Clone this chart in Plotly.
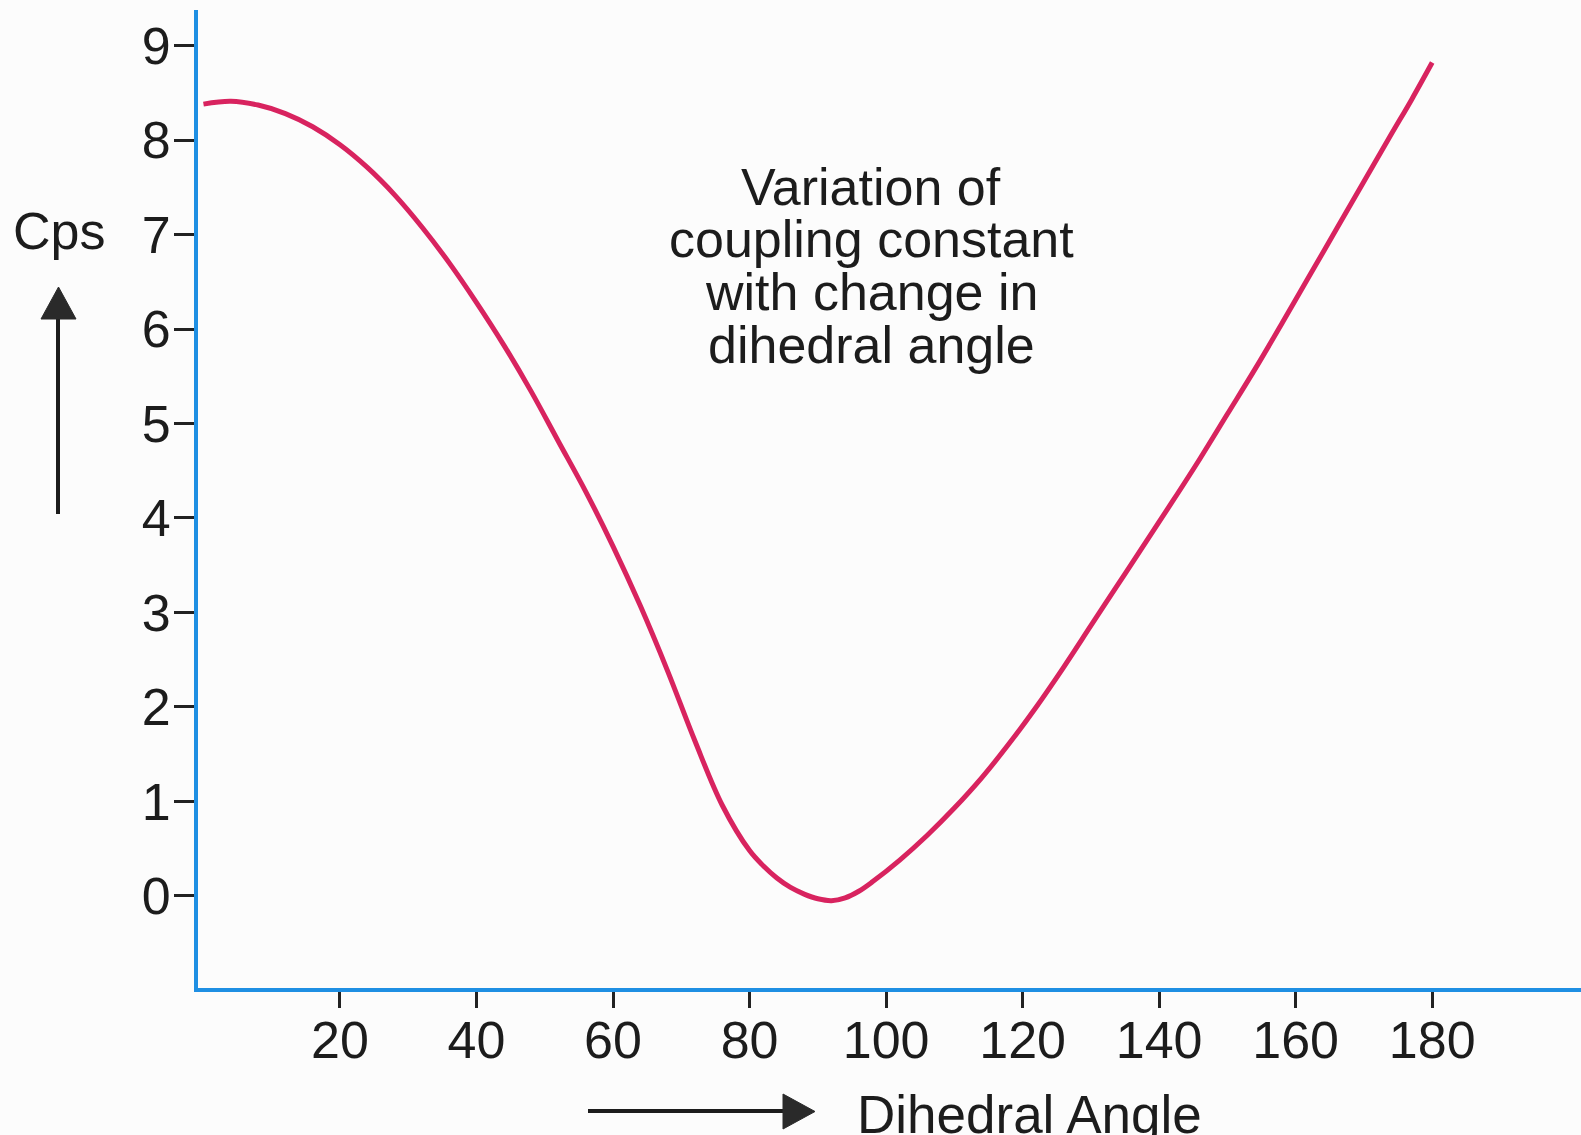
import plotly.graph_objects as go

# Vicinal coupling constant vs. dihedral angle (Karplus-type curve)
angle_deg = [0, 4, 8, 12, 16, 20, 24, 28, 32, 36, 40, 44, 48, 52, 56, 60, 64,
             68, 72, 76, 80, 82, 84, 86, 88, 90, 92, 94, 96, 98, 102, 106,
             110, 114, 118, 122, 126, 130, 134, 138, 142, 146, 150, 154, 158,
             162, 166, 170, 174, 177, 180]
coupling_cps = [8.38, 8.41, 8.37, 8.28, 8.14, 7.95, 7.71, 7.42, 7.08, 6.70,
                6.28, 5.83, 5.34, 4.81, 4.28, 3.70, 3.07, 2.38, 1.64, 0.96,
                0.48, 0.32, 0.19, 0.09, 0.02, -0.03, -0.05, -0.02, 0.05, 0.15,
                0.38, 0.64, 0.93, 1.25, 1.61, 2.00, 2.42, 2.86, 3.30, 3.74,
                4.18, 4.63, 5.10, 5.57, 6.06, 6.56, 7.06, 7.56, 8.06, 8.43,
                8.82]

x_ticks = [20, 40, 60, 80, 100, 120, 140, 160, 180]
y_ticks = [0, 1, 2, 3, 4, 5, 6, 7, 8, 9]

title_lines = ["Variation of", "coupling constant", "with change in", "dihedral angle"]
y_label = "Cps"
x_label = "Dihedral Angle"

# page geometry (pixels)
W, H = 1581, 1135
M_L, M_R, M_T, M_B = 198, 0, 10, 147
PW, PH = W - M_L - M_R, H - M_T - M_B

FONT = "Liberation Sans, Arial, Helvetica, sans-serif"
INK = "#1c1c1c"
AXIS_BLUE = "#1f8fe3"
CURVE = "#d8235f"
FS = 52


def px(x):
    return (x - M_L) / PW


def py(y):
    return (H - M_B - y) / PH


fig = go.Figure()
fig.add_trace(go.Scatter(
    x=angle_deg, y=coupling_cps, mode="lines",
    line=dict(color=CURVE, width=5, shape="spline", smoothing=1.0),
    hoverinfo="skip", showlegend=False,
))

annotations = []
# multi-line caption, one annotation per line for tight leading
for i, line in enumerate(title_lines):
    annotations.append(dict(
        x=px(871), y=py(187 + i * 52.5), xref="paper", yref="paper",
        text=line, showarrow=False, xanchor="center", yanchor="middle",
        font=dict(family=FONT, size=FS, color=INK),
    ))
annotations.append(dict(
    x=px(59), y=py(231), xref="paper", yref="paper", text=y_label,
    showarrow=False, xanchor="center", yanchor="middle",
    font=dict(family=FONT, size=FS, color=INK),
))
annotations.append(dict(
    x=px(855), y=py(1114), xref="paper", yref="paper", text=x_label,
    showarrow=False, xanchor="left", yanchor="middle",
    font=dict(family=FONT, size=53, color=INK),
))

shapes = [
    # upward arrow beside the y label
    dict(type="line", xref="paper", yref="paper",
         x0=px(58), x1=px(58), y0=py(514), y1=py(316),
         line=dict(color=INK, width=4)),
    dict(type="path", xref="paper", yref="paper",
         path=f"M {px(41)} {py(319)} L {px(76)} {py(319)} L {px(58.5)} {py(287)} Z",
         fillcolor="#2a2a2a", line=dict(color="#2a2a2a", width=1)),
    # rightward arrow before the x label
    dict(type="line", xref="paper", yref="paper",
         x0=px(588), x1=px(786), y0=py(1111), y1=py(1111),
         line=dict(color=INK, width=4)),
    dict(type="path", xref="paper", yref="paper",
         path=f"M {px(783)} {py(1094)} L {px(783)} {py(1129)} L {px(815)} {py(1111.5)} Z",
         fillcolor="#2a2a2a", line=dict(color="#2a2a2a", width=1)),
]

fig.update_layout(
    width=W, height=H,
    margin=dict(l=M_L, r=M_R, t=M_T, b=M_B, pad=0),
    paper_bgcolor="#fcfcfc", plot_bgcolor="#fcfcfc",
    font=dict(family=FONT, size=FS, color=INK),
    annotations=annotations, shapes=shapes,
    xaxis=dict(
        range=[-0.8, 201.8], tickvals=x_ticks, ticktext=[str(v) for v in x_ticks],
        ticks="outside", ticklen=16, tickwidth=3, tickcolor="#222222",
        showline=True, linecolor=AXIS_BLUE, linewidth=4,
        showgrid=False, zeroline=False, ticklabelstandoff=-12,
        tickfont=dict(family=FONT, size=FS, color=INK), fixedrange=True,
    ),
    yaxis=dict(
        range=[-0.974, 9.376], tickvals=y_ticks, ticktext=[str(v) for v in y_ticks],
        ticks="outside", ticklen=20, tickwidth=3, tickcolor="#222222",
        showline=True, linecolor=AXIS_BLUE, linewidth=4,
        showgrid=False, zeroline=False, ticklabelstandoff=-7,
        tickfont=dict(family=FONT, size=FS, color=INK), fixedrange=True,
    ),
)

fig.write_html("out.html", config={"displayModeBar": False})
